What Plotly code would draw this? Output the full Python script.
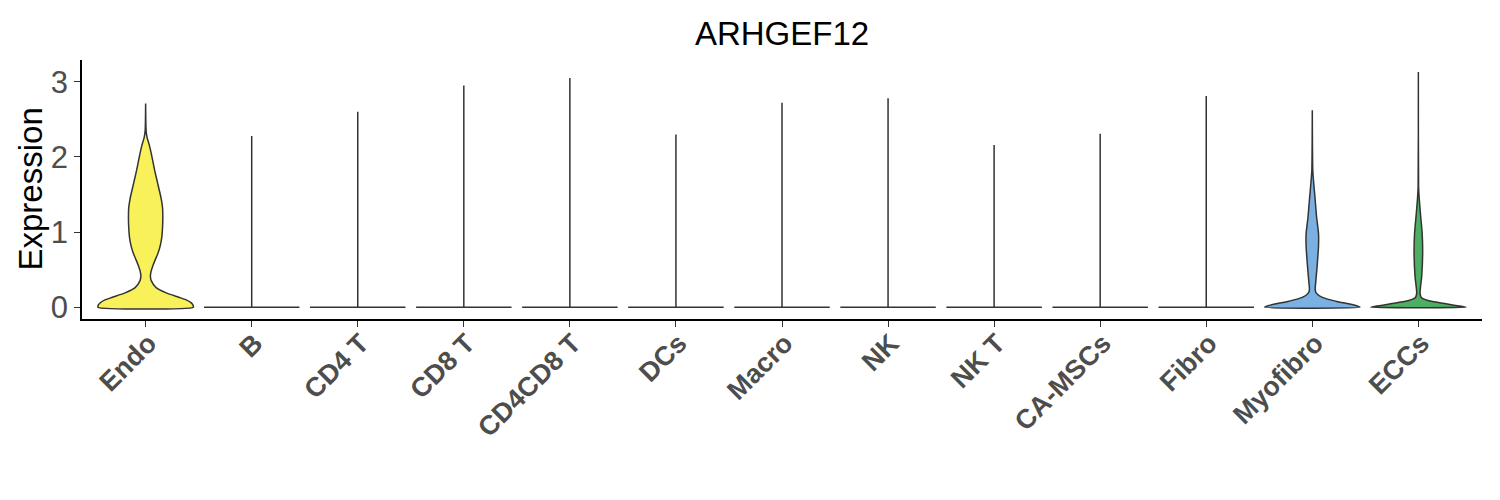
import plotly.graph_objects as go

# ---- data ----
categories = ["Endo", "B", "CD4 T", "CD8 T", "CD4CD8 T", "DCs", "Macro",
              "NK", "NK T", "CA-MSCs", "Fibro", "Myofibro", "ECCs"]
max_expr = [2.71, 2.28, 2.60, 2.95, 3.05, 2.30, 2.72, 2.78, 2.16, 2.31, 2.81, 2.62, 3.13]
fill_colors = ["#F8F15A", "#FFFFFF", "#FFFFFF", "#FFFFFF", "#FFFFFF", "#FFFFFF", "#FFFFFF",
               "#FFFFFF", "#FFFFFF", "#FFFFFF", "#FFFFFF", "#7BB1E2", "#4DAF61"]

# density profiles (relative half-width, 1 = widest) for non-flat violins
endo_y = [0.0, 0.03, 0.06, 0.10, 0.13, 0.19, 0.26, 0.35, 0.41, 0.48, 0.55, 0.63, 0.72,
          0.83, 0.94, 1.07, 1.21, 1.32, 1.43, 1.52, 1.60, 1.71, 1.82, 1.93, 2.04,
          2.15, 2.26, 2.35, 2.71]
endo_w = [1.0, 0.99, 0.95, 0.84, 0.71, 0.43, 0.22, 0.12, 0.10, 0.115, 0.15, 0.20, 0.26,
          0.31, 0.34, 0.355, 0.36, 0.355, 0.33, 0.30, 0.27, 0.23, 0.19, 0.155, 0.12,
          0.08, 0.03, 0.01, 0.0]
myo_y = [0.0, 0.02, 0.04, 0.08, 0.13, 0.19, 0.24, 0.32, 0.54, 0.81, 0.98, 1.20, 1.43,
         1.65, 1.82, 2.62]
myo_w = [1.0, 0.93, 0.80, 0.49, 0.21, 0.08, 0.06, 0.07, 0.10, 0.13, 0.13, 0.09, 0.06,
         0.03, 0.01, 0.0]
ecc_y = [0.0, 0.015, 0.03, 0.06, 0.09, 0.13, 0.19, 0.41, 0.72, 0.98, 1.20, 1.43, 1.60, 3.13]
ecc_w = [1.0, 0.88, 0.72, 0.44, 0.20, 0.06, 0.035, 0.07, 0.09, 0.08, 0.05, 0.02, 0.005, 0.0]

profiles = {"Endo": (endo_y, endo_w), "Myofibro": (myo_y, myo_w), "ECCs": (ecc_y, ecc_w)}

HALF = 0.45  # half of violin width (0.9)

fig = go.Figure()
for i, cat in enumerate(categories):
    if cat in profiles:
        ys, ws = profiles[cat]
        line = dict(color="#333333", width=1.5, shape="spline", smoothing=0.6)
    else:
        ys, ws = [0.0, 0.0, max_expr[i]], [1.0, 0.0, 0.0]
        line = dict(color="#333333", width=1.5)
    xr = [i + w * HALF for w in ws]
    xl = [i - w * HALF for w in ws]
    xs = xr + xl[::-1] + [xr[0]]
    yy = list(ys) + list(ys)[::-1] + [ys[0]]
    fig.add_trace(go.Scatter(
        x=xs, y=yy, mode="lines", fill="toself",
        fillcolor=fill_colors[i], line=line,
        hoverinfo="skip", showlegend=False))

FONT = "Liberation Sans, Arial, sans-serif"
fig.update_layout(
    width=1500, height=500,
    paper_bgcolor="white", plot_bgcolor="white",
    margin=dict(l=82, r=18, t=60, b=181),
    font=dict(family=FONT),
    title=dict(text="ARHGEF12", x=(82 + 1482) / 2 / 1500, xanchor="center",
               y=1 - 33 / 500, yanchor="middle",
               font=dict(size=33, color="black")),
    showlegend=False,
    annotations=[dict(text="Expression", textangle=-90, showarrow=False,
                      xref="paper", yref="paper", x=-52 / 1400, y=0.5,
                      xanchor="center", yanchor="middle",
                      font=dict(size=33, color="black"))],
)
fig.update_xaxes(
    range=[-0.6, 12.6], tickmode="array",
    tickvals=list(range(len(categories))), ticktext=categories,
    tickangle=-45, tickfont=dict(size=27, color="#4D4D4D", family=FONT, weight="bold"),
    ticklabelstandoff=-10, ticklabelshift=3,
    showline=True, linecolor="black", linewidth=1.5,
    ticks="outside", ticklen=6, tickcolor="#333333", tickwidth=1.2,
    showgrid=False, zeroline=False, mirror=False,
)
fig.update_yaxes(
    range=[-0.157, 3.29], tickmode="array", tickvals=[0, 1, 2, 3],
    tickfont=dict(size=31, color="#4D4D4D"),
    showline=True, linecolor="black", linewidth=1.5,
    ticks="outside", ticklen=6, tickcolor="#333333", tickwidth=1.2,
    showgrid=False, zeroline=False,
)

fig.write_html("out.html", config={"displayModeBar": False},
               post_script="document.body.style.margin='0px';")
